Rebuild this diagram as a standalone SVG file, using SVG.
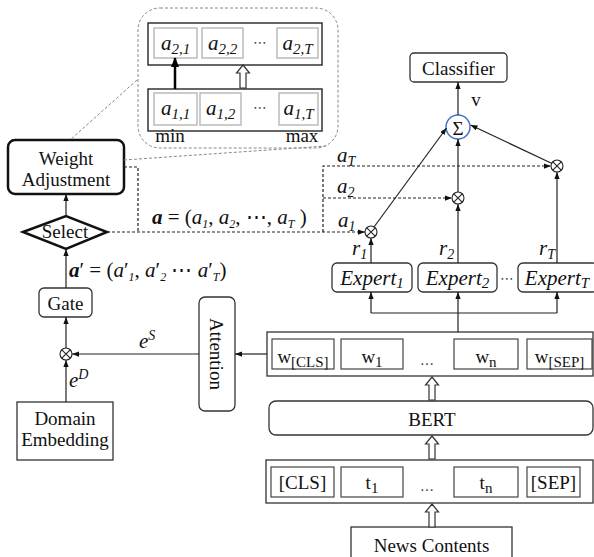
<svg xmlns="http://www.w3.org/2000/svg" xmlns:xlink="http://www.w3.org/1999/xlink" width="594" height="557" viewBox="0 0 594 557">
<style>
.box{fill:#fff;stroke:#333;stroke-width:1.3}
.thick{fill:#fff;stroke:#111;stroke-width:2.5}
.cell{fill:#fff;stroke:#444;stroke-width:1.2}
.icell{fill:#fff;stroke:#bbb;stroke-width:1.5}
.row{fill:#fff;stroke:#333;stroke-width:1.5}
.t{font-family:"Liberation Serif","Times New Roman",serif;font-size:19px;fill:#111;text-anchor:middle}
.m{font-family:"Liberation Serif","Times New Roman",serif;font-style:italic;font-size:21px;fill:#111}
.mc{text-anchor:middle}
.up{font-style:normal}
.ln{stroke:#222;stroke-width:1.2;fill:none}
.dl{stroke:#222;stroke-width:1.2;stroke-dasharray:3 2;fill:none}
.gl{stroke:#888;stroke-width:1;stroke-dasharray:3 2;fill:none}
.dots{font-family:"DejaVu Sans",sans-serif;font-size:14px;fill:#444;text-anchor:middle}
</style>
<defs>
<marker id="a" viewBox="0 0 8 6" markerUnits="userSpaceOnUse" markerWidth="7" markerHeight="5.5" refX="8" refY="3" orient="auto"><path d="M0,0 L8,3 L0,6 Z" fill="#111"/></marker>
<marker id="ab" viewBox="0 0 10 8" markerUnits="userSpaceOnUse" markerWidth="10" markerHeight="8" refX="9" refY="4" orient="auto"><path d="M0,0 L10,4 L0,8 Z" fill="#000"/></marker>
<g id="ot"><circle r="6" fill="#fff" stroke="#222" stroke-width="1.1"/><path d="M-4.2,-4.2 L4.2,4.2 M-4.2,4.2 L4.2,-4.2" stroke="#222" stroke-width="1.1"/></g>
<path id="ha" d="M0,0 L6.5,8 L3,8 L3,23 L-3,23 L-3,8 L-6.5,8 Z" fill="#fff" stroke="#333" stroke-width="1.2"/>
</defs>
<rect width="594" height="557" fill="#fff"/>

<!-- inset -->
<g id="inset">
<rect x="138" y="8" width="200" height="140" rx="22" class="gl"/>
<rect x="148" y="23" width="174" height="42" class="row"/>
<rect x="154" y="28" width="43" height="30" class="icell"/>
<rect x="202" y="28" width="41" height="30" class="icell"/>
<rect x="277" y="28" width="41" height="30" class="icell"/>
<rect x="148" y="89" width="174" height="42" class="row"/>
<rect x="154" y="93" width="43" height="32" class="icell"/>
<rect x="200" y="93" width="41" height="32" class="icell"/>
<rect x="279" y="93" width="39" height="32" class="icell"/>
<text class="m mc" x="175.5" y="50" font-size="22">a<tspan font-size="15" dy="4">2,1</tspan></text>
<text class="m mc" x="222.5" y="50" font-size="22">a<tspan font-size="15" dy="4">2,2</tspan></text>
<text class="dots" x="260" y="47">⋯</text>
<text class="m mc" x="297.5" y="50" font-size="22">a<tspan font-size="15" dy="4">2,T</tspan></text>
<text class="m mc" x="175.5" y="115" font-size="22">a<tspan font-size="15" dy="4">1,1</tspan></text>
<text class="m mc" x="220.5" y="115" font-size="22">a<tspan font-size="15" dy="4">1,2</tspan></text>
<text class="dots" x="260" y="112">⋯</text>
<text class="m mc" x="298.5" y="115" font-size="22">a<tspan font-size="15" dy="4">1,T</tspan></text>
<line x1="175" y1="89" x2="175" y2="58" stroke="#000" stroke-width="2.5" marker-end="url(#ab)"/>
<use href="#ha" x="243" y="65"/>
<text class="t" x="170" y="142" font-size="15">min</text>
<text class="t" x="302" y="142" font-size="15">max</text>
</g>

<!-- nodes -->
<g id="weight-adjustment">
<rect x="8" y="140" width="116" height="54" rx="7" class="thick"/>
<text class="t" x="66" y="165">Weight</text>
<text class="t" x="66" y="186">Adjustment</text>
</g>
<g id="select">
<polygon points="23,232 66,216 107,232 66,249" class="thick"/>
<text class="t" x="65" y="238">Select</text>
</g>
<g id="gate">
<rect x="39" y="288" width="53" height="29" rx="5" class="box"/>
<text class="t" x="65.5" y="310">Gate</text>
</g>
<g id="otimes-gate"><use href="#ot" x="66" y="354"/></g>
<g id="domain-embedding">
<rect x="17" y="402" width="96" height="58" class="box"/>
<text class="t" x="65" y="425">Domain</text>
<text class="t" x="65" y="446">Embedding</text>
</g>
<g id="attention">
<rect x="199" y="297" width="36" height="114" rx="6" class="box"/>
<text class="t" transform="translate(217,354) rotate(90)" x="0" y="7" font-size="21">Attention</text>
</g>
<g id="classifier">
<rect x="410" y="53" width="97" height="29" rx="4" class="box"/>
<text class="t" x="458.5" y="75">Classifier</text>
</g>
<g id="sum">
<circle cx="458" cy="127" r="12" fill="#fff" stroke="#4472C4" stroke-width="1.5"/>
<text class="t" x="458" y="134.5" font-size="21">Σ</text>
</g>
<g id="otimes-1"><use href="#ot" x="371" y="232"/></g>
<g id="otimes-2"><use href="#ot" x="458" y="198"/></g>
<g id="otimes-T"><use href="#ot" x="557" y="166"/></g>
<g id="expert-1">
<rect x="332" y="263" width="80" height="29" rx="5" class="box"/>
<text class="m mc" x="372" y="284.5" font-size="22">Expert<tspan font-size="15" dy="3">1</tspan></text>
</g>
<g id="expert-2">
<rect x="418" y="263" width="79" height="29" rx="5" class="box"/>
<text class="m mc" x="457.5" y="284.5" font-size="22">Expert<tspan font-size="15" dy="3">2</tspan></text>
</g>
<text class="dots" x="507" y="283">⋯</text>
<g id="expert-T">
<rect x="518" y="263" width="80" height="29" rx="5" class="box"/>
<text class="m mc" x="557" y="284.5" font-size="22">Expert<tspan font-size="15" dy="3">T</tspan></text>
</g>
<g id="word-vectors">
<rect x="267" y="332" width="326" height="44" class="box"/>
<rect x="272" y="339" width="62" height="30" class="cell"/>
<rect x="341" y="339" width="62" height="30" class="cell"/>
<rect x="454" y="339" width="64" height="30" class="cell"/>
<rect x="527" y="339" width="65" height="30" class="cell"/>
<text class="t" x="303" y="363">w<tspan font-size="15" dy="4">[CLS]</tspan></text>
<text class="t" x="372" y="363">w<tspan font-size="15" dy="4">1</tspan></text>
<text class="dots" x="427" y="365">…</text>
<text class="t" x="486" y="363">w<tspan font-size="15" dy="4">n</tspan></text>
<text class="t" x="559.5" y="363">w<tspan font-size="15" dy="4">[SEP]</tspan></text>
</g>
<g id="bert">
<rect x="269" y="401" width="324" height="34" rx="7" class="box"/>
<text class="t" x="432" y="426">BERT</text>
</g>
<g id="tokens">
<rect x="266" y="460" width="327" height="43" class="box"/>
<rect x="271" y="467" width="63" height="30" class="cell"/>
<rect x="341" y="467" width="62" height="30" class="cell"/>
<rect x="454" y="467" width="64" height="30" class="cell"/>
<rect x="527" y="467" width="53" height="30" class="cell"/>
<text class="t" x="302.5" y="489">[CLS]</text>
<text class="t" x="372" y="489">t<tspan font-size="15" dy="4">1</tspan></text>
<text class="dots" x="427" y="491">…</text>
<text class="t" x="486" y="489">t<tspan font-size="15" dy="4">n</tspan></text>
<text class="t" x="553.5" y="489">[SEP]</text>
</g>
<g id="news-contents">
<rect x="351" y="527" width="161" height="40" class="box"/>
<text class="t" x="431.5" y="552">News Contents</text>
</g>

<!-- connectors -->
<g id="connectors">
<path class="gl" d="M137,80 L70,140"/>
<path class="gl" d="M124,160 L326,146"/>
<path class="dl" d="M124,167 H138 V232"/>
<path class="dl" d="M107,232 H365" marker-end="url(#a)"/>
<path class="dl" d="M323,232 V166 H551" marker-end="url(#a)"/>
<path class="dl" d="M323,198 H452" marker-end="url(#a)"/>
<path class="ln" d="M374,227 L446.5,128" marker-end="url(#a)"/>
<path class="ln" d="M458,192 V139" marker-end="url(#a)"/>
<path class="ln" d="M552,163.5 L470.5,125" marker-end="url(#a)"/>
<path class="ln" d="M458,115 V82" marker-end="url(#a)"/>
<path class="ln" d="M371,263 V238" marker-end="url(#a)"/>
<path class="ln" d="M458,263 V204" marker-end="url(#a)"/>
<path class="ln" d="M557,263 V172" marker-end="url(#a)"/>
<path class="ln" d="M458,332 V292" marker-end="url(#a)"/>
<path class="ln" d="M371,313 H557"/>
<path class="ln" d="M371,313 V292" marker-end="url(#a)"/>
<path class="ln" d="M557,313 V292" marker-end="url(#a)"/>
<path class="ln" d="M267,354 H235" marker-end="url(#a)"/>
<path class="ln" d="M199,354 H72" marker-end="url(#a)"/>
<path class="ln" d="M66,402 V360" marker-end="url(#a)"/>
<path class="ln" d="M66,348 V317" marker-end="url(#a)"/>
<path class="ln" d="M66,288 V249" marker-end="url(#a)"/>
<path class="ln" d="M66,216 V194" marker-end="url(#a)"/>
<use href="#ha" x="432" y="377"/>
<use href="#ha" x="432" y="436"/>
<use href="#ha" x="432" y="504"/>
</g>

<!-- labels -->
<g id="labels">
<text class="t" x="476" y="106">v</text>
<text class="m" x="337" y="162">a<tspan font-size="14" dy="4">T</tspan></text>
<text class="m" x="337" y="193">a<tspan font-size="14" dy="4">2</tspan></text>
<text class="m" x="338" y="227">a<tspan font-size="14" dy="4">1</tspan></text>
<text class="m" x="352" y="255">r<tspan font-size="14" dy="4">1</tspan></text>
<text class="m" x="439" y="255">r<tspan font-size="14" dy="4">2</tspan></text>
<text class="m" x="539" y="255">r<tspan font-size="14" dy="4">T</tspan></text>
<text class="m" x="139" y="348">e<tspan font-size="14" dy="-8">S</tspan></text>
<text class="m" x="69" y="387">e<tspan font-size="14" dy="-8">D</tspan></text>
<text class="m" x="152" y="224" font-size="18"><tspan font-weight="bold">a</tspan><tspan class="up"> = (</tspan>a<tspan font-size="12" dy="4">1</tspan><tspan class="up" dy="-4">, </tspan>a<tspan font-size="12" dy="4">2</tspan><tspan class="up" dy="-4">, ⋯, </tspan>a<tspan font-size="12" dy="4">T</tspan><tspan class="up" dy="-4"> )</tspan></text>
<text class="m" x="69" y="277" font-size="17.5"><tspan font-weight="bold">a</tspan><tspan class="up">′ = (</tspan>a<tspan class="up">′</tspan><tspan font-size="12" dy="4">1</tspan><tspan class="up" dy="-4">, </tspan>a<tspan class="up">′</tspan><tspan font-size="12" dy="4">2</tspan><tspan class="up" dy="-4"> ⋯ </tspan>a<tspan class="up">′</tspan><tspan font-size="12" dy="4">T</tspan><tspan class="up" dy="-4">)</tspan></text>
</g>
</svg>
